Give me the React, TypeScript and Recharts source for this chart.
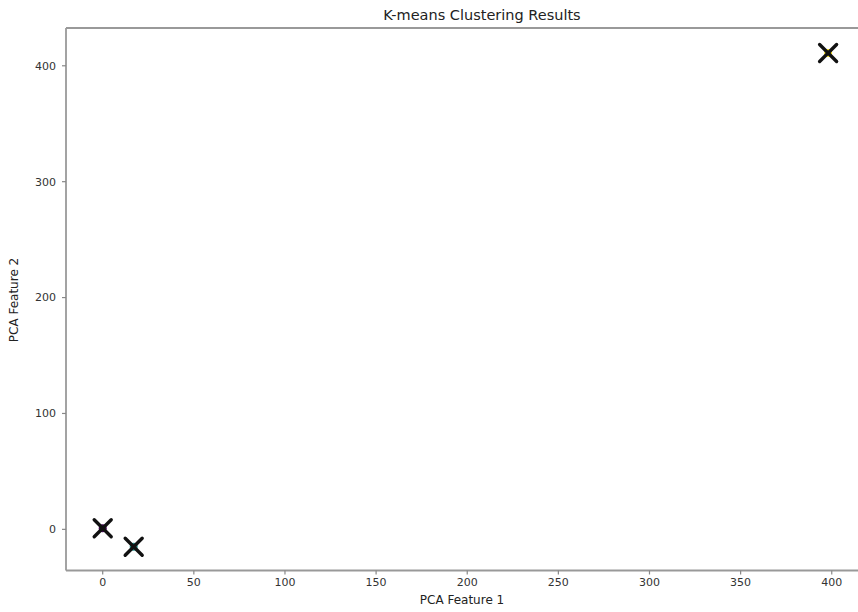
import { ScatterChart, Scatter, XAxis, YAxis, ReferenceLine } from 'recharts';

// cluster centroids in PCA space
const clusterNames = ['Cluster 0', 'Cluster 1', 'Cluster 2'];
const pcaFeature1 = [0, 17, 398];
const pcaFeature2 = [1, -15, 411];
const clusterColors = ['#440154', '#21918c', '#fde725'];

const xTicks = [0, 50, 100, 150, 200, 250, 300, 350, 400];
const yTicks = [0, 100, 200, 300, 400];

// right edge of the axes is cut off by the picture, so the visible x range stops at ~414
const X_DOMAIN: [number, number] = [-20.14, 414.4];
const Y_DOMAIN: [number, number] = [-35.5, 432.6];

const data = clusterNames.map((name, i) => ({
  name,
  x: pcaFeature1[i],
  y: pcaFeature2[i],
  color: clusterColors[i],
}));

const font = '"DejaVu Sans", sans-serif';
const frame = { stroke: '#999', strokeWidth: 1.8 };

function CentroidMark(props: any) {
  const { cx, cy, payload } = props;
  if (cx == null || cy == null) return null;
  const a = 8.5;
  return (
    <g>
      <circle cx={cx} cy={cy} r={4} fill={payload.color} />
      <line x1={cx - a} y1={cy - a} x2={cx + a} y2={cy + a} stroke="#111" strokeWidth={3.4} strokeLinecap="round" />
      <line x1={cx - a} y1={cy + a} x2={cx + a} y2={cy - a} stroke="#111" strokeWidth={3.4} strokeLinecap="round" />
    </g>
  );
}

export default function App() {
  return (
    <div style={{ position: 'absolute', left: 0, top: 0, width: 858, height: 612, background: '#fff' }}>
      <ScatterChart width={858} height={612} margin={{ top: 28, right: 0, bottom: 0, left: 0 }}>
        <XAxis
          type="number"
          dataKey="x"
          domain={X_DOMAIN}
          ticks={xTicks}
          allowDataOverflow
          height={41.5}
          axisLine={frame}
          tickSize={4}
          tickMargin={4}
          tickLine={{ stroke: '#888', strokeWidth: 1.2 }}
          tick={{ fontSize: 11, fill: '#333', fontFamily: font }}
        />
        <YAxis
          type="number"
          dataKey="y"
          domain={Y_DOMAIN}
          ticks={yTicks}
          allowDataOverflow
          width={66}
          axisLine={frame}
          tickSize={4}
          tickMargin={6}
          tickLine={{ stroke: '#888', strokeWidth: 1.2 }}
          tick={{ fontSize: 11, fill: '#333', fontFamily: font }}
        />
        <ReferenceLine y={Y_DOMAIN[1]} {...frame} />
        <Scatter data={data} shape={CentroidMark} isAnimationActive={false} />
      </ScatterChart>
      <svg width={858} height={612} style={{ position: 'absolute', left: 0, top: 0, pointerEvents: 'none' }}>
        <text x={482} y={20} textAnchor="middle" fontFamily={font} fontSize={14.5} fill="#222">
          K-means Clustering Results
        </text>
        <text x={462} y={604} textAnchor="middle" fontFamily={font} fontSize={12} fill="#222">
          PCA Feature 1
        </text>
        <text
          x={0}
          y={0}
          transform="translate(18 300) rotate(-90)"
          textAnchor="middle"
          fontFamily={font}
          fontSize={12}
          fill="#222"
        >
          PCA Feature 2
        </text>
      </svg>
    </div>
  );
}
